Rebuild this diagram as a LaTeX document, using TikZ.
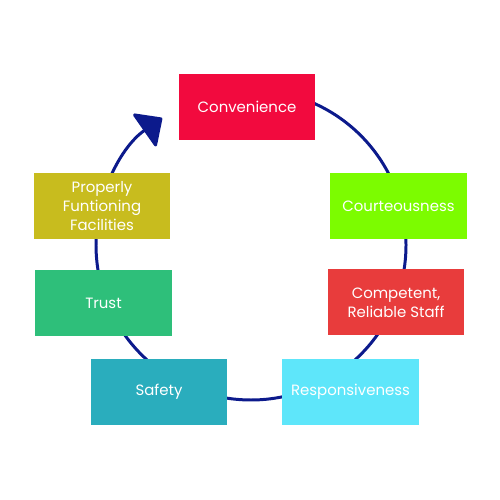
\documentclass[tikz,border=0pt]{standalone}
\usepackage{fontspec}
\setmainfont{Poppins}
\usetikzlibrary{arrows.meta,calc}
\definecolor{ringblue}{HTML}{0C1A8C}
\definecolor{cConv}{HTML}{F20A3E}
\definecolor{cCourt}{HTML}{7CFC00}
\definecolor{cComp}{HTML}{E83C3C}
\definecolor{cProp}{HTML}{C8BC1E}
\definecolor{cTrust}{HTML}{2EBF7A}
\definecolor{cSafe}{HTML}{2AADBD}
\definecolor{cResp}{HTML}{5EE6FA}
\tikzset{
  itembox/.style={rectangle, minimum width=2.73cm, minimum height=1.32cm, inner sep=0pt,
    text=white, align=center, font=\fontsize{8.5}{10.8}\selectfont},
  ring/.style={draw=ringblue, line width=1.7pt}
}
\begin{document}
\begin{tikzpicture}
\useasboundingbox (0,0) rectangle (10,10);
\fill[white] (0,0) rectangle (10,10);
\coordinate (c) at (5.02,5.10);
\coordinate (arcstart) at ($(c)+(90:3.1)$);
\draw[ring, -{Triangle[width=0.86cm,length=0.46cm,round]}] (arcstart) arc[start angle=90, end angle=-235, radius=3.1];
\node[itembox, fill=cConv] (conv) at (4.94,7.86) {Convenience};
\node[itembox, fill=cCourt] (court) at (7.97,5.88) {Courteousness};
\node[itembox, fill=cComp] (comp) at (7.92,3.95) {Competent,\\Reliable Staff};
\node[itembox, fill=cResp] (resp) at (7.01,2.16) {Responsiveness};
\node[itembox, fill=cSafe] (safe) at (3.18,2.16) {Safety};
\node[itembox, fill=cTrust] (trust) at (2.07,3.94) {Trust};
\node[itembox, fill=cProp] (prop) at (2.04,5.88) {Properly\\Funtioning\\Facilities};
\end{tikzpicture}
\end{document}
